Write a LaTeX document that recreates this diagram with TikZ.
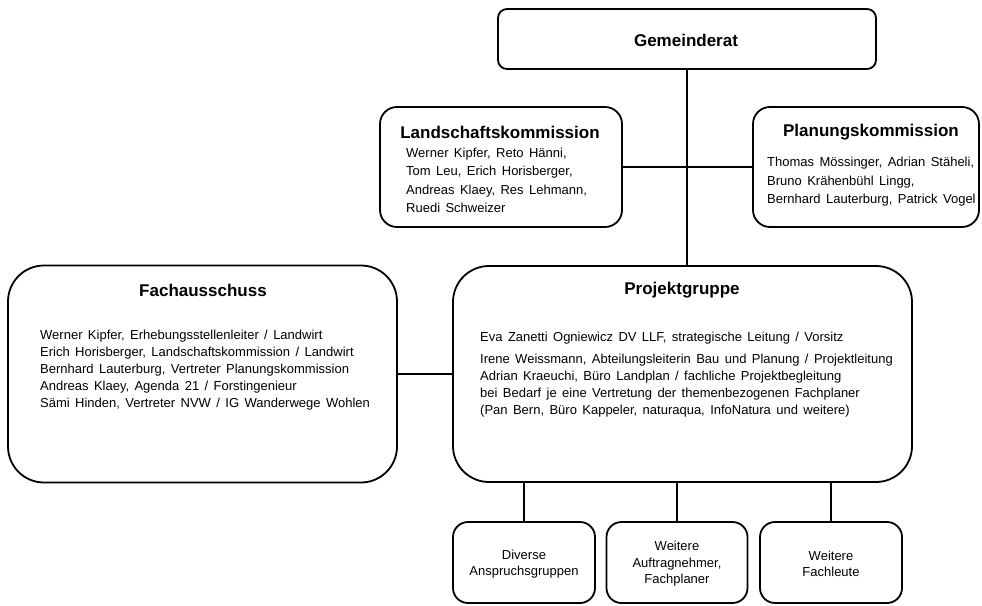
\documentclass[tikz,border=0pt]{standalone}
\usepackage{fontspec}
\setmainfont{Liberation Sans}
\newcommand\myfnt[1]{\fontsize{13}{#1}\selectfont\spaceskip=5.4pt plus 1pt minus 1pt\relax}
\begin{document}
\begin{tikzpicture}[x=1pt,y=-1pt,
  box/.style={draw=black,line width=1.8pt,fill=white,inner sep=0pt},
  conn/.style={draw=black,line width=1.3pt},
  ttl/.style={font=\fontsize{17}{20}\selectfont\bfseries,inner sep=0pt},
  body/.style={font=\myfnt{17},align=left,inner sep=0pt,anchor=north west},
  small/.style={font=\fontsize{13}{16.5}\selectfont,align=center}]
\useasboundingbox (0,0) rectangle (982,605);

% boxes
\node[box,rounded corners=9pt,minimum width=378pt,minimum height=60pt] (gr) at (687,39) {};
\node[box,rounded corners=17pt,minimum width=242pt,minimum height=120pt] (lk) at (501,167) {};
\node[box,rounded corners=17pt,minimum width=226pt,minimum height=120pt] (pk) at (866,167) {};
\node[box,rounded corners=36pt,minimum width=389pt,minimum height=217pt] (fa) at (202.5,374) {};
\node[box,rounded corners=36pt,minimum width=459pt,minimum height=216pt] (pg) at (682.5,374) {};
\node[box,rounded corners=15pt,minimum width=142pt,minimum height=81pt] (b1) at (524,562.5) {};
\node[box,rounded corners=15pt,minimum width=141pt,minimum height=81pt] (b2) at (677,562.5) {};
\node[box,rounded corners=15pt,minimum width=142pt,minimum height=81pt] (b3) at (831,562.5) {};

% connectors
\draw[conn] (gr.south) -- (gr.south |- pg.north);
\draw[conn] (lk.east) -- (pk.west);
\draw[conn] (fa.east) -- (pg.west);
\draw[conn] (b1.north) -- (b1.north |- pg.south);
\draw[conn] (b2.north) -- (b2.north |- pg.south);
\draw[conn] (b3.north) -- (b3.north |- pg.south);

% titles
\node[ttl] (grt) at (686,40) {Gemeinderat};
\node[ttl] (lkt) at (500,132) {Landschaftskommission};
\node[ttl] (pkt) at (871,132) {Planungskommission};
\node[ttl] (fat) at (203,290) {Fachausschuss};
\node[ttl] (pgt) at (682,290) {Projektgruppe};

% bodies
\node[body,font=\myfnt{18.3}] (lkb) at (406,148) {Werner Kipfer, Reto Hänni,\\Tom Leu, Erich Horisberger,\\Andreas Klaey, Res Lehmann,\\Ruedi Schweizer};
\node[body,font=\myfnt{18.5}] (pkb) at (767,157) {Thomas Mössinger, Adrian Stäheli,\\Bruno Krähenbühl Lingg,\\Bernhard Lauterburg, Patrick Vogel};
\node[body] (fab) at (40,330) {Werner Kipfer, Erhebungsstellenleiter / Landwirt\\Erich Horisberger, Landschaftskommission / Landwirt\\Bernhard Lauterburg, Vertreter Planungskommission\\Andreas Klaey, Agenda 21 / Forstingenieur\\Sämi Hinden, Vertreter NVW / IG Wanderwege Wohlen};
\node[body] (pgb) at (480,332) {Eva Zanetti Ogniewicz DV LLF, strategische Leitung / Vorsitz\\[5pt]Irene Weissmann, Abteilungsleiterin Bau und Planung / Projektleitung\\Adrian Kraeuchi, Büro Landplan / fachliche Projektbegleitung\\bei Bedarf je eine Vertretung der themenbezogenen Fachplaner\\(Pan Bern, Büro Kappeler, naturaqua, InfoNatura und weitere)};

% bottom texts
\node[small] (b1t) at (524,564) {Diverse\\Anspruchsgruppen};
\node[small] (b2t) at (677,564) {Weitere\\Auftragnehmer,\\Fachplaner};
\node[small] (b3t) at (831,564) {Weitere\\Fachleute};
\end{tikzpicture}
\end{document}
